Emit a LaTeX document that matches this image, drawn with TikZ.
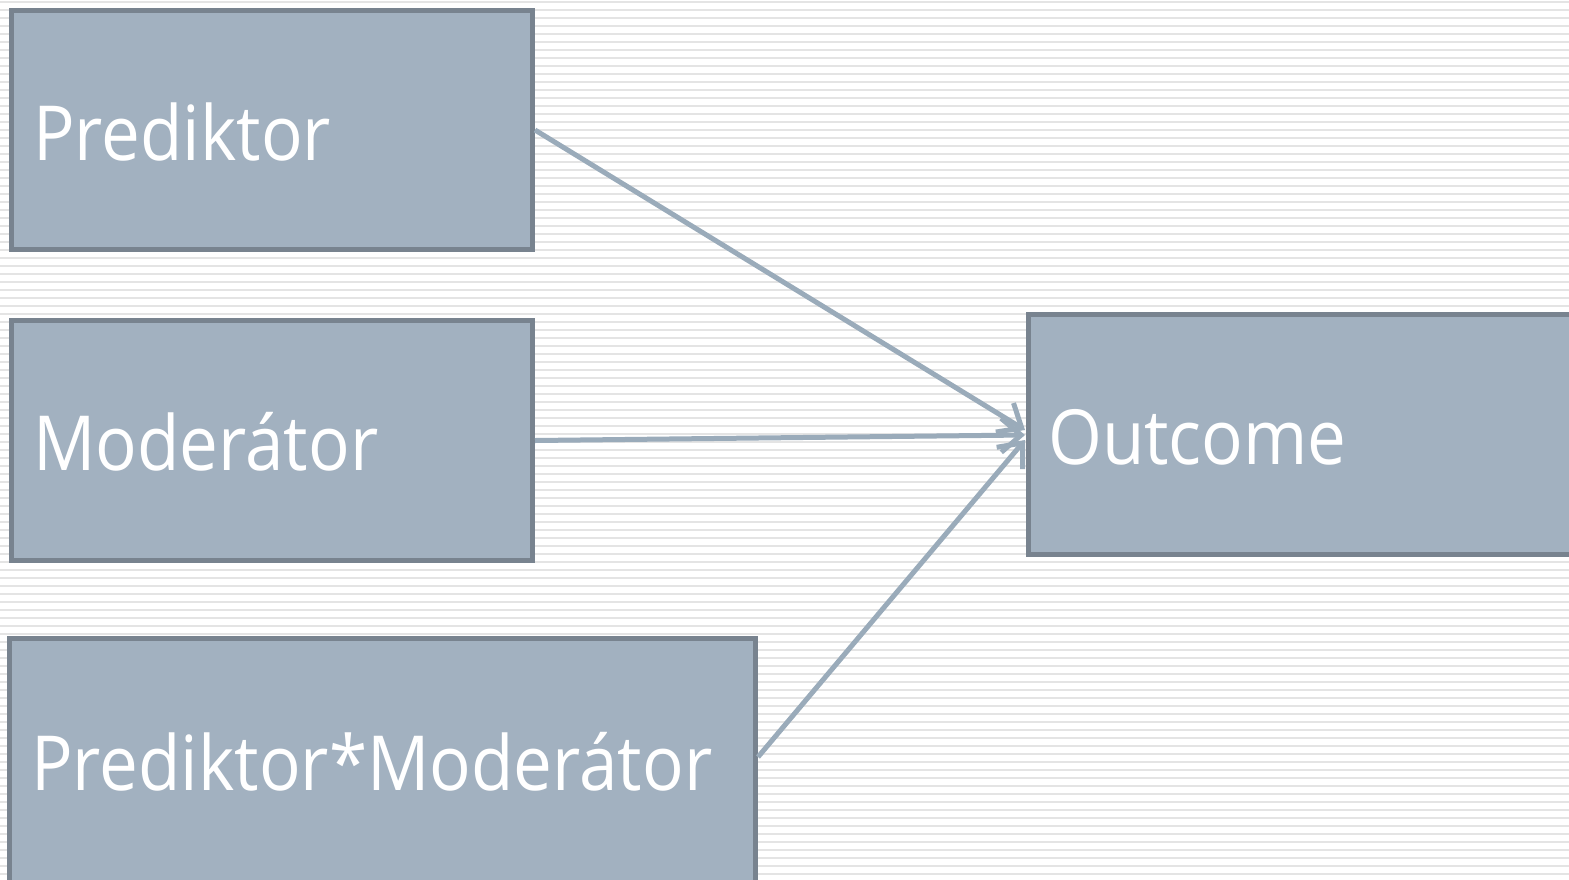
\documentclass[tikz,border=0pt]{standalone}
\usepackage{fontspec}
\setmainfont{Open Sans}[FakeStretch=0.91]
\usetikzlibrary{arrows.meta}
\definecolor{boxfill}{HTML}{A2B1C0}
\definecolor{boxline}{HTML}{78838F}
\definecolor{arrowc}{HTML}{9AABBA}
\definecolor{stripe}{HTML}{E4E4E4}
\begin{document}
\begin{tikzpicture}[x=1pt,y=-1pt,
  box/.style={draw=boxline, fill=boxfill, line width=5pt, anchor=north west, inner sep=0pt},
  lbl/.style={anchor=base west, inner sep=0pt, text=white, font=\fontsize{76}{90}\selectfont},
  conn/.style={draw=arrowc, line width=5pt, -{Straight Barb[length=20pt,width=34pt,line width=5pt]}}]
\useasboundingbox (0,0) rectangle (1569,879);
\fill[white] (0,0) rectangle (1569,879);
\foreach \y in {2,10,...,879} \draw[stripe, line width=2pt] (0,\y) -- (1569,\y);
\node[box, minimum width=521pt, minimum height=239pt] (b1) at (9,8) {};
\node[box, minimum width=521pt, minimum height=240pt] (b2) at (9,318) {};
\node[box, minimum width=746pt, minimum height=260pt] (b3) at (7,636) {};
\node[box, minimum width=560pt, minimum height=240pt] (b4) at (1026,312) {};
\node[lbl] (t1) at (33,160) {Prediktor};
\node[lbl] (t2) at (33,470) {Moderátor};
\node[lbl] (t3) at (31,790) {Prediktor*Moderátor};
\node[lbl] (t4) at (1048,464) {Outcome};
\coordinate (e1) at (1025,430);
\coordinate (e2) at (1025,435);
\coordinate (e3) at (1025,440);
\draw[conn] (b1.east) -- (e1);
\draw[conn] (b2.east) -- (e2);
\draw[conn] ([yshift=-121pt]b3.north east) -- (e3);
\end{tikzpicture}
\end{document}
